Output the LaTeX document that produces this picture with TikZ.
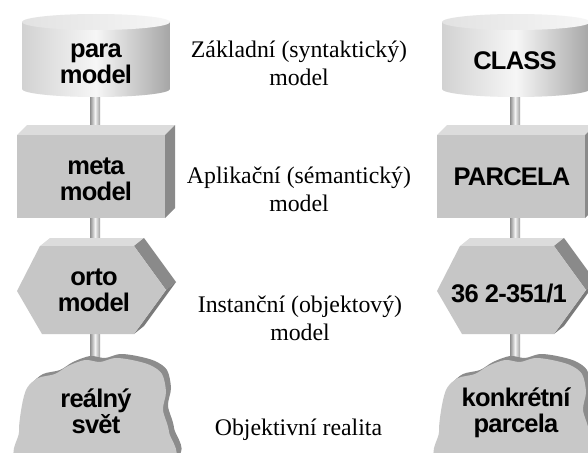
\documentclass[tikz,border=0pt]{standalone}
\usepackage{fontspec}
\setmainfont{Liberation Serif}
\newfontfamily\boxfont[LetterSpace=-3]{Liberation Sans}
\usetikzlibrary{calc}
\definecolor{frontc}{HTML}{C6C6C6}
\definecolor{topc}{HTML}{DCDCDC}
\definecolor{sidec}{HTML}{8A8A8A}
\definecolor{sidedk}{HTML}{7A7A7A}
\definecolor{cloudc}{HTML}{C8C8C8}
\definecolor{shadowc}{HTML}{8C8C8C}
\definecolor{poleL}{HTML}{8E8E8E}
\definecolor{poleM}{HTML}{F2F2F2}
\definecolor{poleR}{HTML}{A0A0A0}
\definecolor{cylL}{HTML}{D2D2D2}
\definecolor{cylM}{HTML}{F6F6F6}
\definecolor{cylR}{HTML}{A6A6A6}
\definecolor{topL}{HTML}{E2E2E2}
\definecolor{topR}{HTML}{F6F6F6}
\begin{document}
\begin{tikzpicture}[x=1pt,y=-1pt,
  boxlbl/.style={font=\boxfont\bfseries\fontsize{25.5}{24.5}\selectfont, inner sep=0pt},
  sidelbl/.style={font=\fontsize{23.8}{28}\selectfont, inner sep=0pt},
  cyl/.pic={
    \shade[left color=cylL, right color=cylR, middle color=cylM]
      (22,22) -- (22,89) arc[start angle=180,end angle=0,x radius=74,y radius=8] -- (170,22) -- cycle;
    \shade[left color=topL, right color=topR] (96,22) ellipse[x radius=74,y radius=8];
  },
  boxpic/.pic={
    \fill[topc] (17,135) -- (27,125) -- (175,125) -- (165,135) -- cycle;
    \fill[sidec] (165,135) -- (175,125) -- (175,208) -- (165,218) -- cycle;
    \fill[frontc] (17,135) rectangle (165,218);
  },
  hexpic/.pic={
    \fill[topc] (40,246) -- (50,238) -- (144,238) -- (134,246) -- cycle;
    \fill[sidec] (134,246) -- (144,238) -- (176,282) -- (166,290) -- cycle;
    \fill[sidedk] (166,290) -- (176,282) -- (144,326) -- (134,334) -- cycle;
    \fill[frontc] (17,291) -- (40,246) -- (134,246) -- (166,290) -- (134,334) -- (42,334) -- cycle;
  },
  cloudpic/.pic={
    \fill[shadowc, shift={(5,-4)}] plot[smooth cycle] coordinates {(24,462) (19,432) (22,405) (27,388) (38,378) (55,374) (68,366) (85,360) (100,362) (115,358) (132,360) (150,365) (162,374) (166,392) (163,410) (169,432) (167,462)};
    \fill[cloudc] plot[smooth cycle] coordinates {(24,462) (19,432) (22,405) (27,388) (38,378) (55,374) (68,366) (85,360) (100,362) (115,358) (132,360) (150,365) (162,374) (166,392) (163,410) (169,432) (167,462)};
  }
]
\useasboundingbox (0,0) rectangle (588,452);
\clip (0,0) rectangle (588,452);
\fill[white] (0,0) rectangle (588,452);

% pole anchors
\coordinate (Ltop) at (95,92);
\coordinate (Lbot) at (95,370);
\coordinate (Rtop) at (515,92);
\coordinate (Rbot) at (515,370);
\shade[left color=poleL, right color=poleR, middle color=poleM] ($(Ltop)+(-5,0)$) rectangle ($(Lbot)+(5,0)$);
\shade[left color=poleL, right color=poleR, middle color=poleM] ($(Rtop)+(-5,0)$) rectangle ($(Rbot)+(5,0)$);

% left column shapes
\pic at (0,0) {cyl};
\pic at (0,0) {boxpic};
\pic at (0,0) {hexpic};
\pic at (0,0) {cloudpic};
% right column shapes
\pic at (420,0) {cyl};
\pic at (420,0) {boxpic};
\pic at (420,0) {hexpic};
\pic at (420,0) {cloudpic};

% labels in shapes
\node[boxlbl] (para) at (96,66) {\begin{tabular}{@{}c@{}}para\\model\end{tabular}};
\node[boxlbl] (meta) at (96,183) {\begin{tabular}{@{}c@{}}meta\\model\end{tabular}};
\node[boxlbl] (orto) at (94,294) {\begin{tabular}{@{}c@{}}orto\\model\end{tabular}};
\node[boxlbl] (real) at (96,415) {\begin{tabular}{@{}c@{}}reálný\\svět\end{tabular}};
\node[boxlbl, anchor=base] (class) at (515,70) {CLASS};
\node[boxlbl, anchor=base] (parcela) at (512,185) {PARCELA};
\node[boxlbl, anchor=base] (num) at (509,302) {36 2-351/1};
\node[boxlbl] (konk) at (516,414) {\begin{tabular}{@{}c@{}}konkrétní\\parcela\end{tabular}};

% middle descriptions
\node[sidelbl] (d1) at (299,65.4) {\begin{tabular}{@{}c@{}}Základní (syntaktický)\\model\end{tabular}};
\node[sidelbl] (d2) at (299,191.4) {\begin{tabular}{@{}c@{}}Aplikační (sémantický)\\model\end{tabular}};
\node[sidelbl] (d3) at (300,320.4) {\begin{tabular}{@{}c@{}}Instanční (objektový)\\model\end{tabular}};
\node[sidelbl, anchor=base] (d4) at (298.5,435) {Objektivní realita};
\end{tikzpicture}
\end{document}
